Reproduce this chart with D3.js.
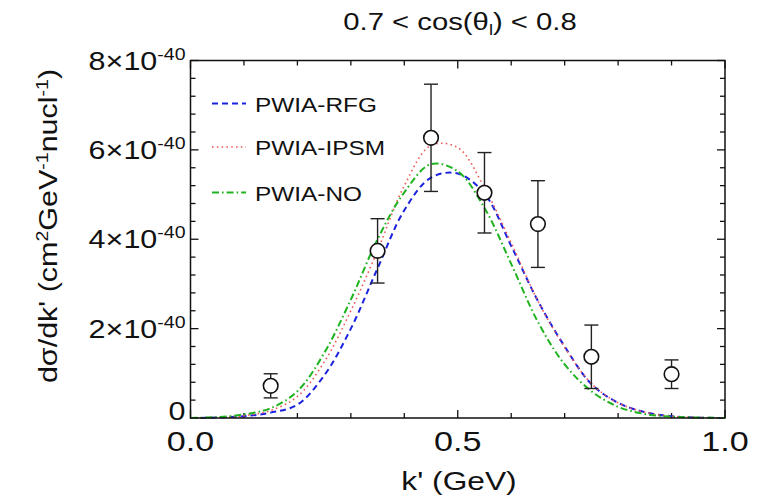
<!DOCTYPE html>
<html>
<head>
<meta charset="utf-8">
<title>dsigma/dk'</title>
<script src="https://d3js.org/d3.v7.min.js"></script>
<style>
  body { margin: 0; background: #fff; }
  text { font-family: "Liberation Sans", Arial, Helvetica, sans-serif; fill: #111; }
  .frame { fill: none; stroke: #111; stroke-width: 1.5; }
  .tick { stroke: #111; stroke-width: 1.3; }
</style>
</head>
<body>
<script>
// measured points (k' in GeV, cross section in units of 1e-40)
var kData   = [0.15, 0.35, 0.45, 0.55, 0.65, 0.75, 0.90];
var xsData  = [0.72, 3.74, 6.27, 5.04, 4.34, 1.37, 0.98];
var xsErr   = [0.27, 0.72, 1.20, 0.90, 0.97, 0.71, 0.32];

var kGrid = [0, 0.05, 0.10, 0.15, 0.20, 0.25, 0.30, 0.35, 0.40, 0.45, 0.50,
             0.55, 0.60, 0.65, 0.70, 0.75, 0.80, 0.85, 0.90, 0.95, 1.0];
var rfgVals  = [0, 0.01, 0.04, 0.12, 0.30, 0.95, 2.00, 3.35, 4.65, 5.38, 5.47,
                5.02, 3.85, 2.62, 1.60, 0.76, 0.34, 0.13, 0.04, 0.01, 0];
var ipsmVals = [0, 0.01, 0.05, 0.17, 0.48, 1.25, 2.40, 3.75, 5.20, 6.10, 6.05,
                5.15, 3.92, 2.62, 1.58, 0.77, 0.34, 0.13, 0.04, 0.01, 0];
var noVals   = [0, 0.02, 0.08, 0.22, 0.60, 1.45, 2.65, 4.00, 5.05, 5.68, 5.52,
                4.70, 3.45, 2.15, 1.20, 0.60, 0.25, 0.09, 0.03, 0.01, 0];

var seriesNames = ["PWIA-RFG", "PWIA-IPSM", "PWIA-NO"];
var seriesVals  = [rfgVals, ipsmVals, noVals];

var yTickVals = [0, 2, 4, 6, 8];
var xTickVals = [0, 0.5, 1.0];

var width = 767, height = 499;
var plot = {left: 190.5, right: 725, top: 60.5, bottom: 418};
var SX = 1.22; // the original text is drawn a bit wide

var styles = [
  {color: "#1a22e0", dash: "6,4",         w: 2.0},
  {color: "#f25a5a", dash: "1.6,3.2",     w: 1.6},
  {color: "#1fb41f", dash: "7,3,1.6,3",   w: 2.0}
];

var svg = d3.select("body").append("svg")
  .attr("width", width).attr("height", height);

var x = d3.scaleLinear().domain([0, 1]).range([plot.left, plot.right]);
var y = d3.scaleLinear().domain([0, 8]).range([plot.bottom, plot.top]);

// ticks pointing inward on all four sides
var ticks = svg.append("g");
d3.range(0, 1.0001, 0.1).forEach(function(v, i) {
  var len = (i % 5 === 0) ? 8 : 5;
  ticks.append("line").attr("class", "tick")
    .attr("x1", x(v)).attr("x2", x(v)).attr("y1", plot.bottom).attr("y2", plot.bottom - len);
  ticks.append("line").attr("class", "tick")
    .attr("x1", x(v)).attr("x2", x(v)).attr("y1", plot.top).attr("y2", plot.top + len);
});
d3.range(0, 8.0001, 0.4).forEach(function(v, i) {
  var len = (i % 5 === 0) ? 8 : 5;
  ticks.append("line").attr("class", "tick")
    .attr("x1", plot.left).attr("x2", plot.left + len).attr("y1", y(v)).attr("y2", y(v));
  ticks.append("line").attr("class", "tick")
    .attr("x1", plot.right).attr("x2", plot.right - len).attr("y1", y(v)).attr("y2", y(v));
});

// model curves
var line = d3.line()
  .x(function(d) { return x(d[0]); })
  .y(function(d) { return y(d[1]); })
  .curve(d3.curveCatmullRom);

seriesVals.forEach(function(vals, i) {
  svg.append("path")
    .datum(kGrid.map(function(k, j) { return [k, vals[j]]; }))
    .attr("d", line)
    .attr("fill", "none")
    .attr("stroke", styles[i].color)
    .attr("stroke-width", styles[i].w)
    .attr("stroke-dasharray", styles[i].dash);
});

// data points with error bars
var pts = svg.append("g").selectAll("g")
  .data(kData.map(function(k, i) { return {k: k, v: xsData[i], e: xsErr[i]}; }))
  .join("g");
pts.append("line")
  .attr("x1", function(d) { return x(d.k); }).attr("x2", function(d) { return x(d.k); })
  .attr("y1", function(d) { return y(d.v + d.e); }).attr("y2", function(d) { return y(d.v - d.e); })
  .attr("stroke", "#222").attr("stroke-width", 1.4);
[1, -1].forEach(function(s) {
  pts.append("line")
    .attr("x1", function(d) { return x(d.k) - 7; }).attr("x2", function(d) { return x(d.k) + 7; })
    .attr("y1", function(d) { return y(d.v + s * d.e); }).attr("y2", function(d) { return y(d.v + s * d.e); })
    .attr("stroke", "#222").attr("stroke-width", 1.4);
});
pts.append("circle")
  .attr("cx", function(d) { return x(d.k); }).attr("cy", function(d) { return y(d.v); })
  .attr("r", 7.3).attr("fill", "#fff").attr("stroke", "#111").attr("stroke-width", 1.6);

// frame
svg.append("rect").attr("class", "frame")
  .attr("x", plot.left).attr("y", plot.top)
  .attr("width", plot.right - plot.left).attr("height", plot.bottom - plot.top);

// helper: text group stretched horizontally
function label(px, py, anchor, size, rot) {
  var g = svg.append("g")
    .attr("transform", "translate(" + px + "," + py + ")" + (rot ? " rotate(" + rot + ")" : "") + " scale(" + SX + ",1)");
  return g.append("text").attr("text-anchor", anchor).attr("font-size", size);
}

// x tick labels
xTickVals.forEach(function(v) {
  label(x(v), 451, "middle", 28).text(d3.format(".1f")(v));
});

// y tick labels (the "0" sits a little high so it clears "0.0")
yTickVals.forEach(function(v) {
  var t = label(plot.left - 5, y(v) + (v === 0 ? 2 : 9), "end", 25);
  if (v === 0) { t.text("0"); return; }
  t.append("tspan").text(v + "\u00d710");
  t.append("tspan").attr("dy", -10).attr("font-size", 16).text("-40");
});

// axis titles
label(459, 490, "middle", 26).text("k' (GeV)");
var yt = label(57, 226, "middle", 25, -90);
yt.append("tspan").text("d\u03c3/dk' (cm");
yt.append("tspan").attr("dy", -9).attr("font-size", 16).text("2");
yt.append("tspan").attr("dy", 9).text("GeV");
yt.append("tspan").attr("dy", -9).attr("font-size", 16).text("-1");
yt.append("tspan").attr("dy", 9).text("nucl");
yt.append("tspan").attr("dy", -9).attr("font-size", 16).text("-1");
yt.append("tspan").attr("dy", 9).text(")");

// title
var tt = label(460, 30, "middle", 24);
tt.append("tspan").text("0.7 < cos(\u03b8");
tt.append("tspan").attr("dy", 5).attr("font-size", 15).text("l");
tt.append("tspan").attr("dy", -5).text(") < 0.8");

// legend
seriesNames.forEach(function(name, i) {
  var ly = [103.5, 147, 192.5][i];
  svg.append("line")
    .attr("x1", 212).attr("x2", 246).attr("y1", ly).attr("y2", ly)
    .attr("stroke", styles[i].color)
    .attr("stroke-width", styles[i].w)
    .attr("stroke-dasharray", styles[i].dash);
  label(255, ly + 8, "start", 20).text(name);
});
</script>
</body>
</html>
